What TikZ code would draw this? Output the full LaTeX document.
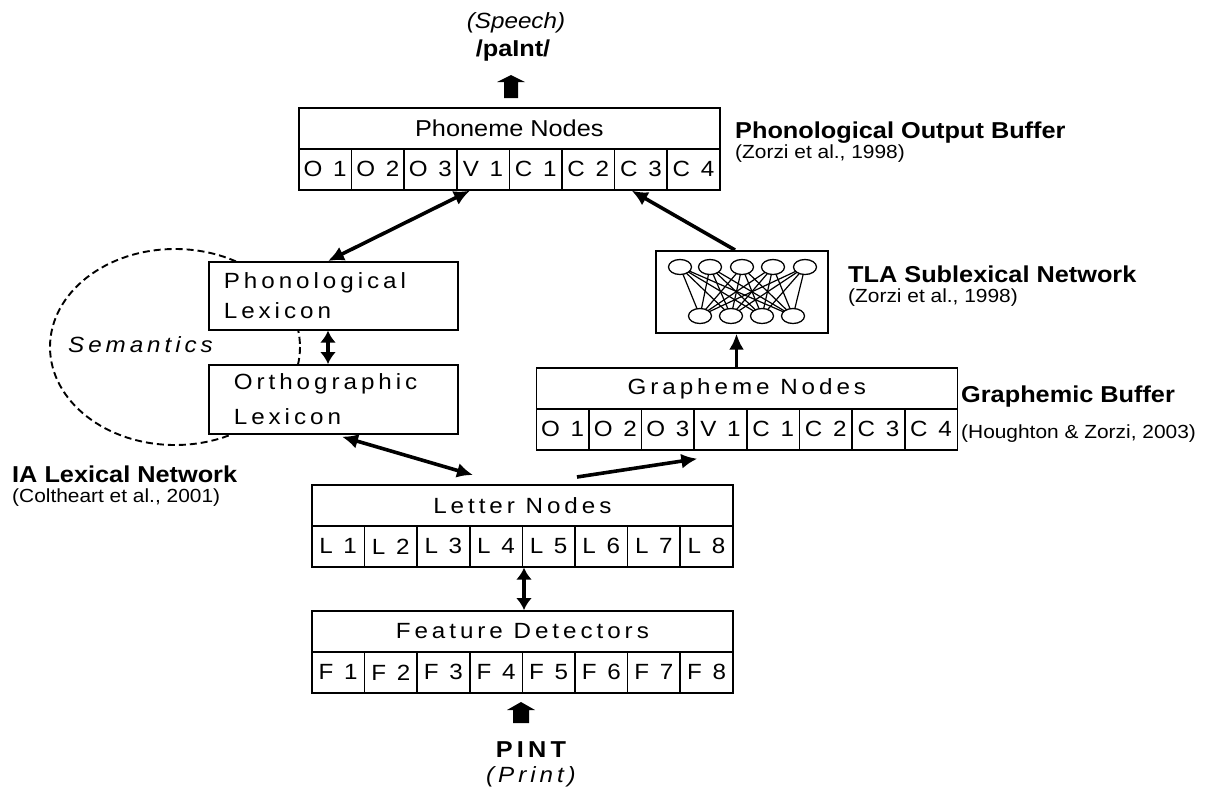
\documentclass[tikz,border=0pt]{standalone}
\usepackage{fontspec}
\setmainfont{Liberation Sans}[FakeStretch=1.1]
\newfontfamily\spc{Liberation Sans}[FakeStretch=1.1,LetterSpace=18]
\usetikzlibrary{arrows.meta,calc,shapes.geometric}
\tikzset{
  box/.style={draw,line width=1.7pt,fill=white,inner sep=0pt},
  ttl/.style={box,minimum width=421pt,minimum height=41pt,anchor=north west,font=\fontsize{22}{26}\selectfont\spc},
  cell/.style={box,minimum width=52.625pt,minimum height=41pt,anchor=north west,font=\fontsize{22}{26}\selectfont\spc},
  lex/.style={box,minimum width=249pt,minimum height=68pt,anchor=north west,align=left,font=\fontsize{22}{30}\selectfont\spc},
  conn/.style={line width=3.6pt,-{Latex[length=16pt,width=15pt]}},
  dconn/.style={line width=3.6pt,{Latex[length=16pt,width=15pt]}-{Latex[length=16pt,width=15pt]}},
  sconn/.style={line width=3.6pt,{Latex[length=12pt,width=16pt]}-{Latex[length=12pt,width=16pt]}},
  boldlbl/.style={font=\fontsize{23}{26}\selectfont\bfseries,anchor=base west,inner sep=0pt},
  cite/.style={font=\fontsize{19}{22}\selectfont,anchor=base west,inner sep=0pt},
  unit/.style={draw,line width=1.3pt,fill=white,ellipse,minimum width=23pt,minimum height=15pt,inner sep=0pt},
  semline/.style={line width=1.9pt,dash pattern=on 7pt off 4pt},
  fat/.style={fill=black}
}
\newcommand\mybuffer[5]{%
  \node[ttl] (#1T) at (#2,#3) {#4};
  \foreach \l [count=\i] in {#5} {
    \node[cell] (#1\i) at ({#2+(\i-1)*52.625},{#3+41}) {\l};
  }
}
\begin{document}
\begin{tikzpicture}[x=1pt,y=-1pt]
\fill[white] (0,0) rectangle (1227,793);
\useasboundingbox (0,0) rectangle (1227,793);

% semantics ellipse (behind lexicon boxes)
\draw[semline] (175,347) ellipse [x radius=125, y radius=98];
\node[font=\fontsize{22}{26}\selectfont\spc\itshape, anchor=base west, inner sep=0pt] (sem) at (68,352) {Semantics};

% buffers
\mybuffer{ph}{298}{107}{\rmfamily\fontsize{23}{26}\selectfont Phoneme Nodes}{O 1,O 2,O 3,V 1,C 1,C 2,C 3,C 4}
\mybuffer{gr}{535.5}{367}{Grapheme Nodes}{O 1,O 2,O 3,V 1,C 1,C 2,C 3,C 4}
\mybuffer{le}{311}{484}{Letter Nodes}{L 1,L 2,L 3,L 4,L 5,L 6,L 7,L 8}
\mybuffer{fe}{311}{610}{Feature Detectors}{F 1,F 2,F 3,F 4,F 5,F 6,F 7,F 8}

% lexicons
\node[lex, inner xsep=15pt, text width=219pt] (phlex) at (208,261) {Phonological\\Lexicon};
\node[lex, inner xsep=25pt, text width=199pt, minimum height=69pt] (orlex) at (208,364) {Orthographic\\[5pt]Lexicon};

% TLA network
\node[box, minimum width=172pt, minimum height=82pt, anchor=north west] (tla) at (655,250) {};
\foreach \x [count=\i] in {680,710,742,773,805} { \coordinate (tc\i) at (\x,267); }
\foreach \x [count=\j] in {700,731,762,793} { \coordinate (bc\j) at (\x,316); }
\foreach \i in {1,...,5} { \foreach \j in {1,...,4} { \draw[line width=1.2pt] (tc\i) -- (bc\j); } }
\foreach \i in {1,...,5} { \node[unit] (tu\i) at (tc\i) {}; }
\foreach \j in {1,...,4} { \node[unit] (bu\j) at (bc\j) {}; }

% connectors
\draw[dconn] ($(phlex.north west)+(120,0)$) -- ($(ph4.south west)+(14,0)$);
\draw[sconn] ($(phlex.south west)+(120,0)$) -- ($(orlex.north west)+(120,0)$);
\draw[dconn] ($(orlex.south west)+(134,2)$) -- ($(leT.north west)+(162,-9)$);
\draw[conn] ($(leT.north west)+(266,-7)$) -- ($(gr4.south west)+(4,8)$);
\draw[conn] ($(grT.north west)+(201,0)$) -- (tla.south -| {$(grT.north west)+(201,0)$});
\draw[conn] ($(tla.north west)+(80,0)$) -- ($(ph7.south west)+(18,0)$);
\draw[sconn] ($(le5.south west)+(2.5,0)$) -- ($(feT.north west)+(213,0)$);

% input / output fat arrows
\fill[fat] (497,82) -- (511,75) -- (525,82) -- (518,82) -- (518,98) -- (504,98) -- (504,82) -- cycle;
\fill[fat] (507,710) -- (521,702) -- (535,710) -- (529,710) -- (529,723) -- (513,723) -- (513,710) -- cycle;

% texts
\node[font=\fontsize{22}{26}\selectfont\itshape, anchor=base] (speech) at (516,28) {(Speech)};
\node[font=\fontsize{23}{26}\selectfont\bfseries, anchor=base] (pron) at (513,56) {/paInt/};
\node[font=\fontsize{23}{26}\selectfont\spc\bfseries, anchor=base] (pint) at (531,757) {PINT};
\node[font=\fontsize{22}{26}\selectfont\spc\itshape, anchor=base] (print) at (531,782) {(Print)};

\node[boldlbl] (pobT) at (735,138) {Phonological Output Buffer};
\node[cite] (pobC) at (735,158) {(Zorzi et al., 1998)};
\node[boldlbl] (tlaT) at (848,282) {TLA Sublexical Network};
\node[cite] (tlaC) at (848,302) {(Zorzi et al., 1998)};
\node[boldlbl] (gbT) at (961,402) {Graphemic Buffer};
\node[cite] (gbC) at (961,438) {(Houghton \& Zorzi, 2003)};
\node[boldlbl] (iaT) at (12,482) {IA Lexical Network};
\node[cite] (iaC) at (12,502) {(Coltheart et al., 2001)};
\end{tikzpicture}
\end{document}
